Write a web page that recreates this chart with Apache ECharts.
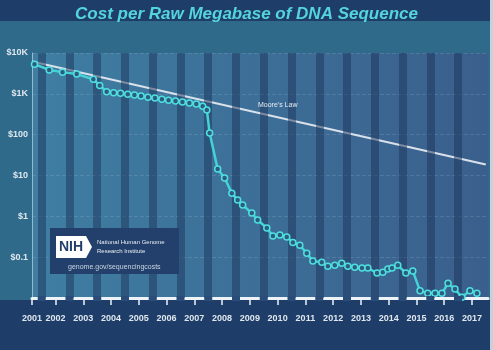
<!DOCTYPE html>
<html>
<head>
<meta charset="utf-8">
<script src="https://cdn.jsdelivr.net/npm/echarts@6/dist/echarts.min.js"></script>
<style>
  html, body { margin: 0; padding: 0; background: #1e3d68; }
  #chart { width: 493px; height: 350px; }
</style>
</head>
<body>
<div id="chart"></div>
<script>
// axis range / ticks
const xMin = 2001.15;
const xMax = 2017.58;
const yearTicks = [2002, 2003, 2004, 2005, 2006, 2007, 2008, 2009, 2010, 2011, 2012, 2013, 2014, 2015, 2016, 2017];
const yTickValues = [0.01, 0.1, 1, 10, 100, 1000, 10000];
const yTickLabels = ['', '$0.1', '$1', '$10', '$100', '$1K', '$10K'];

// cost per raw megabase
const costYears = [
  2001.24, 2001.77, 2002.25, 2002.76, 2003.36, 2003.59, 2003.84, 2004.09, 2004.34, 2004.60,
  2004.84, 2005.08, 2005.33, 2005.58, 2005.83, 2006.07, 2006.32, 2006.57, 2006.82, 2007.07,
  2007.30, 2007.45, 2007.55, 2007.84, 2008.09, 2008.35, 2008.56, 2008.74, 2009.07, 2009.28,
  2009.61, 2009.83, 2010.08, 2010.33, 2010.55, 2010.80, 2011.05, 2011.27, 2011.59, 2011.81,
  2012.06, 2012.31, 2012.53, 2012.78, 2013.04, 2013.25, 2013.58, 2013.79, 2013.97, 2014.12,
  2014.33, 2014.62, 2014.87, 2015.13, 2015.41, 2015.67, 2015.92, 2016.14, 2016.39, 2016.64,
  2016.93, 2017.18
];
const costValues = [
  5300, 3850, 3400, 3050, 2260, 1600, 1130, 1070, 1030, 970,
  940, 880, 830, 790, 740, 700, 665, 630, 595, 560,
  500, 400, 110, 14.5, 8.7, 3.7, 2.5, 1.9, 1.2, 0.81,
  0.52, 0.33, 0.35, 0.31, 0.23, 0.195, 0.125, 0.08, 0.075, 0.06,
  0.063, 0.071, 0.06, 0.057, 0.054, 0.054, 0.041, 0.043, 0.051, 0.054,
  0.063, 0.041, 0.046, 0.015, 0.013, 0.013, 0.013, 0.023, 0.0165, 0.0105,
  0.015, 0.013
];

// Moore's Law reference line
const mooreYears = [xMin, 2017.5];
const mooreValues = [6200, 18.5];

// darker columns between years
const stripeYears = [2001.5, 2002.5, 2003.5, 2004.5, 2005.5, 2006.5, 2007.5, 2008.5, 2009.5,
  2010.5, 2011.5, 2012.5, 2013.5, 2014.5, 2015.5, 2016.5];

const chart = echarts.init(document.getElementById('chart'));

const labelFont = { color: '#dfe7ef', fontSize: 9, fontWeight: 'bold', fontFamily: 'Liberation Sans' };

const staticGraphics = [
  // teal panel behind the plot
  { type: 'rect', z: -10, shape: { x: 0, y: 21, width: 490, height: 279 }, style: { fill: '#2f6a8a' } },
  { type: 'rect', z: -10, shape: { x: 490, y: 0, width: 3, height: 350 }, style: { fill: '#c6d1da' } },
  // Moore's Law label
  {
    type: 'text', left: 258, top: 102, z: 10,
    style: { text: "Moore's Law", fill: '#e6edf3', fontSize: 7, fontFamily: 'Liberation Sans' },
  },
  // NIH box
  { type: 'rect', z: 20, shape: { x: 50, y: 228, width: 129, height: 46 }, style: { fill: '#233f6b' } },
  {
    type: 'polygon', z: 21,
    shape: { points: [[56, 236], [86, 236], [92, 247], [86, 258], [56, 258]] },
    style: { fill: '#ffffff' },
  },
  {
    type: 'text', left: 59, top: 240, z: 22,
    style: { text: 'NIH', fill: '#233f6b', fontSize: 14, fontWeight: 'bold', fontFamily: 'Liberation Sans' },
  },
  {
    type: 'text', left: 97, top: 238, z: 22,
    style: { text: 'National Human Genome\nResearch Institute', fill: '#e6edf3', fontSize: 6, lineHeight: 9, fontFamily: 'Liberation Sans' },
  },
  {
    type: 'text', left: 68, top: 264, z: 22,
    style: { text: 'genome.gov/sequencingcosts', fill: '#c9d6e2', fontSize: 7, fontFamily: 'Liberation Sans' },
  },
];

chart.setOption({
  animation: false,
  backgroundColor: '#1e3d68',
  title: {
    text: 'Cost per Raw Megabase of DNA Sequence',
    left: 'center',
    top: 1,
    textStyle: {
      color: '#55d4dd',
      fontSize: 17,
      fontWeight: 'bold',
      fontStyle: 'italic',
      fontFamily: 'Liberation Sans',
    },
  },
  graphic: staticGraphics,
  grid: {
    left: 32,
    right: 5,
    top: 53,
    bottom: 52,
    show: true,
    borderWidth: 0,
    backgroundColor: new echarts.graphic.LinearGradient(0, 0, 1, 0, [
      { offset: 0, color: '#3f7ea2' },
      { offset: 1, color: '#3a5f8c' },
    ]),
  },
  xAxis: {
    type: 'value',
    min: xMin,
    max: xMax,
    axisLine: { show: true, onZero: false, lineStyle: { color: '#eef3f7', width: 3 } },
    axisTick: {
      show: true,
      length: 7,
      customValues: [xMin].concat(yearTicks),
      lineStyle: { color: '#eef3f7', width: 1.5 },
    },
    axisLabel: {
      ...labelFont,
      margin: 16,
      customValues: [xMin].concat(yearTicks),
      formatter: (v) => String(Math.floor(v)),
    },
    splitLine: { show: false },
  },
  yAxis: {
    type: 'log',
    logBase: 10,
    min: 0.01,
    max: 10000,
    axisLine: { show: true, lineStyle: { color: 'rgba(225,235,242,0.55)', width: 1 } },
    axisTick: { show: false },
    axisLabel: {
      ...labelFont,
      margin: 4,
      formatter: (v) => {
        const i = yTickValues.findIndex((t) => Math.abs(Math.log10(t) - Math.log10(v)) < 1e-6);
        return i >= 0 ? yTickLabels[i] : '';
      },
    },
    splitLine: { show: true, lineStyle: { color: 'rgba(200,220,235,0.16)', type: 'dashed', width: 1 } },
  },
  series: [
    {
      // year stripes
      type: 'line',
      data: [],
      z: 1,
      silent: true,
      markLine: {
        silent: true,
        symbol: 'none',
        label: { show: false },
        lineStyle: { color: 'rgba(28,52,90,0.5)', width: 8, type: 'solid' },
        data: stripeYears.map((v) => ({ xAxis: v })),
      },
    },
    {
      name: "Moore's Law",
      type: 'line',
      z: 3,
      data: mooreYears.map((x, i) => [x, mooreValues[i]]),
      showSymbol: false,
      lineStyle: { color: '#d9e1ea', width: 2 },
    },
    {
      name: 'Cost per Mb',
      type: 'line',
      z: 5,
      data: costYears.map((x, i) => [x, costValues[i]]),
      symbol: 'circle',
      symbolSize: 6,
      showAllSymbol: true,
      lineStyle: { color: '#43d3d6', width: 2.5 },
      itemStyle: { color: '#2c5d7e', borderColor: '#4fdfe0', borderWidth: 1.5 },
    },
  ],
});

// gaps in the white baseline where the year stripes meet it
const gapRects = stripeYears.map((v) => {
  const px = chart.convertToPixel({ xAxisIndex: 0 }, v);
  return {
    type: 'rect', z: 30,
    shape: { x: px - 4, y: 296, width: 8, height: 5 },
    style: { fill: '#2a4c78' },
  };
});
chart.setOption({ graphic: staticGraphics.concat(gapRects) });
</script>
</body>
</html>
